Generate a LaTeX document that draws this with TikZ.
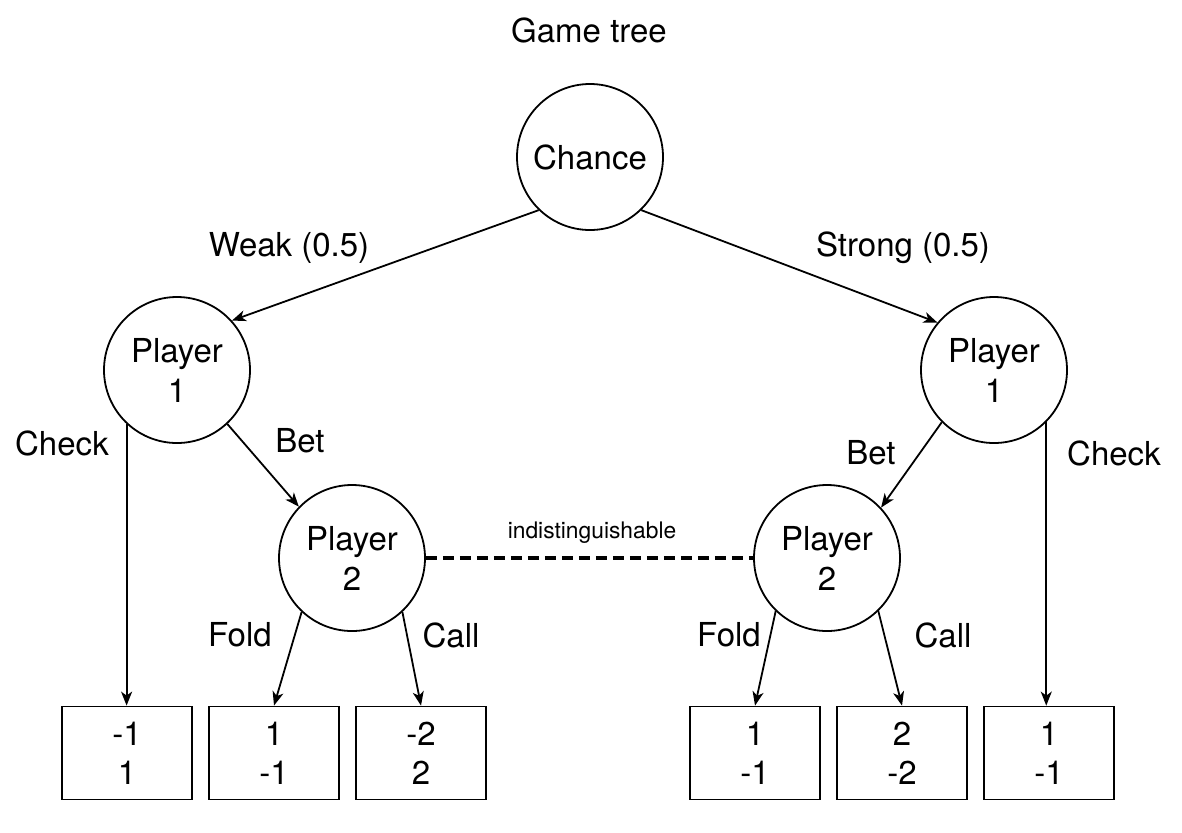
\documentclass[tikz,border=0pt]{standalone}
\usepackage{fontspec}
\setmainfont{TeX Gyre Heros}
\usetikzlibrary{arrows.meta}

\tikzset{
  decision/.style={draw, circle, line width=0.9pt, minimum size=73pt, inner sep=0pt,
                   align=center, font=\fontsize{16.5}{20}\selectfont},
  payoff/.style={draw, rectangle, line width=0.9pt, minimum width=65pt, minimum height=46.5pt,
                 inner sep=0pt, align=center, font=\fontsize{16.5}{19.5}\selectfont},
  move/.style={line width=0.9pt, -{Stealth[length=7pt, width=5.5pt, inset=2pt]}},
  lbl/.style={font=\fontsize{16.5}{20}\selectfont, inner sep=0pt}
}

\begin{document}
\begin{tikzpicture}[x=0.5pt, y=-0.5pt]
    \useasboundingbox (0, 0) rectangle (1182, 832);

    % Title
    \node [lbl] (title) at (589, 30) {Game tree};

    % Chance node
    \node [decision] (chance) at (590, 157) {Chance};

    % Player 1 nodes
    \node [decision] (pOneW) at (177, 370) {Player\\1};
    \node [decision] (pOneS) at (994, 370) {Player\\1};

    % Player 2 nodes
    \node [decision] (pTwoW) at (352, 558) {Player\\2};
    \node [decision] (pTwoS) at (827, 558) {Player\\2};

    % Payoffs
    \node [payoff] (leafA) at (127, 753) {-1\\1};
    \node [payoff] (leafB) at (274, 753) {1\\-1};
    \node [payoff] (leafC) at (421, 753) {-2\\2};
    \node [payoff] (leafD) at (755, 753) {1\\-1};
    \node [payoff] (leafE) at (902, 753) {2\\-2};
    \node [payoff] (leafF) at (1049, 753) {1\\-1};

    % Chance edges
    \draw [move] (chance.226) -- (pOneW.42);
    \draw [move] (chance.314) -- (pOneS.140);
    \node [lbl] (weak) at (289, 248) {Weak (0.5)};
    \node [lbl] (strong) at (903, 248) {Strong (0.5)};

    % Player 1 edges
    \draw [move] (pOneW.227) -- (pOneW.227 |- leafA.north);
    \draw [move] (pOneW.313) -- (pTwoW.136);
    \draw [move] (pOneS.225) -- (pTwoS.43);
    \draw [move] (pOneS.315) -- (pOneS.315 |- leafF.north);
    \node [lbl] (checkW) at (62, 443) {Check};
    \node [lbl] (betW) at (300, 441) {Bet};
    \node [lbl] (betS) at (871, 453) {Bet};
    \node [lbl] (checkS) at (1114, 453) {Check};

    % Player 2 edges
    \draw [move] (pTwoW.227) -- (leafB.north);
    \draw [move] (pTwoW.313) -- (leafC.north);
    \draw [move] (pTwoS.226) -- (leafD.north);
    \draw [move] (pTwoS.314) -- (leafE.north);
    \node [lbl] (foldW) at (240, 635) {Fold};
    \node [lbl] (callW) at (451, 635) {Call};
    \node [lbl] (foldS) at (729, 635) {Fold};
    \node [lbl] (callS) at (943, 635) {Call};

    % Information set
    \draw [line width=1.7pt, dash pattern=on 5.5pt off 3pt] (pTwoW.east) -- (pTwoS.west);
    \node [font=\fontsize{11.4}{14}\selectfont, inner sep=0pt] (info) at (592, 533) {indistinguishable};
\end{tikzpicture}
\end{document}
